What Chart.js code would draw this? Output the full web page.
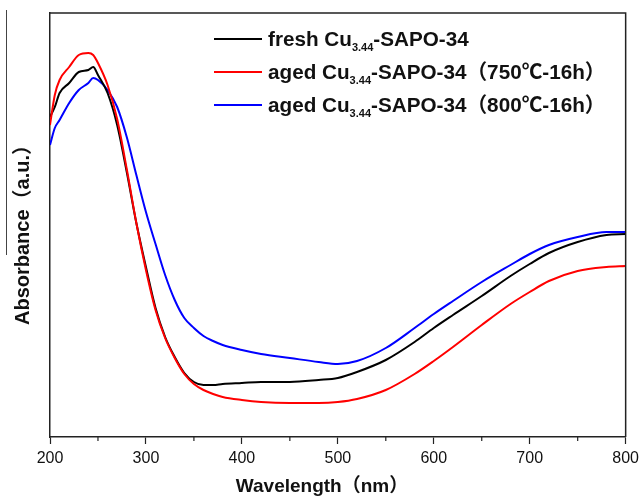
<!DOCTYPE html>
<html>
<head>
<meta charset="utf-8">
<script src="https://cdn.jsdelivr.net/npm/chart.js@4/dist/chart.umd.min.js"></script>
<style>
  html, body { margin: 0; padding: 0; background: #fff; }
  #wrap { position: relative; width: 644px; height: 498px; }
  #stray { position: absolute; left: 6px; top: 10px; width: 1px; height: 245px; background: #444; }
</style>
</head>
<body>
<div id="wrap">
  <canvas id="chart" width="644" height="498"></canvas>
  <div id="stray"></div>
</div>
<script>
const wavelengths = [200, 205, 210, 220, 230, 240, 245, 250, 260, 270, 280, 290, 300, 310, 320, 330, 340, 350, 360, 370, 380, 400, 420, 450, 480, 500, 520, 550, 580, 600, 620, 650, 680, 700, 720, 750, 780, 800];

const freshValues = [320, 330, 344, 354, 365, 367, 370, 362, 344, 312, 265, 214, 170, 129, 100, 80, 64, 55, 52, 52, 53, 54, 55, 55, 57, 59, 65, 77, 95, 109, 122, 141, 161, 173, 184, 195, 202, 203];
const aged750Values = [312, 342, 357, 370, 382, 384, 382, 374, 352, 318, 268, 214, 167, 127, 99, 79, 63, 53, 47, 43, 40, 37, 35, 34, 34, 35, 38, 47, 63, 76, 90, 112, 133, 145, 156, 166, 170, 171];
const aged800Values = [292, 309, 317, 334, 347, 354, 359, 357, 347, 330, 300, 262, 225, 193, 162, 137, 119, 109, 101, 96, 92, 87, 83, 79, 75, 73, 76, 89, 109, 123, 136, 155, 172, 183, 192, 200, 205, 205];

// label pieces: text, subscript, text
const seriesLabels = [
  ["fresh Cu", "3.44", "-SAPO-34"],
  ["aged Cu", "3.44", "-SAPO-34（750℃-16h）"],
  ["aged Cu", "3.44", "-SAPO-34（800℃-16h）"],
];
const seriesColors = ["#000000", "#ff0000", "#0000ff"];

const majorTicks = [200, 300, 400, 500, 600, 700, 800];
const minorTicks = [250, 350, 450, 550, 650, 750];

const textFont = '"Liberation Sans", Arial, "Noto Sans CJK SC", sans-serif';

function points(values) {
  return wavelengths.map((w, i) => ({ x: w, y: values[i] }));
}

const framePlugin = {
  id: "frame",
  afterDraw(chart) {
    const { ctx, chartArea } = chart;
    const xs = chart.scales.x;
    ctx.save();
    ctx.strokeStyle = "#222";
    ctx.lineWidth = 1.5;
    ctx.beginPath();
    ctx.moveTo(chartArea.left, chartArea.top);
    ctx.lineTo(chartArea.right, chartArea.top);
    ctx.lineTo(chartArea.right, chartArea.bottom);
    ctx.stroke();
    ctx.lineWidth = 1.2;
    minorTicks.forEach((t) => {
      const px = xs.getPixelForValue(t);
      ctx.beginPath();
      ctx.moveTo(px, chartArea.bottom);
      ctx.lineTo(px, chartArea.bottom + 4);
      ctx.stroke();
    });

    // axis titles
    ctx.fillStyle = "#111";
    ctx.font = "bold 19px " + textFont;
    ctx.textAlign = "center";
    ctx.textBaseline = "middle";
    ctx.fillText("Wavelength（nm）", 322, 487);
    ctx.save();
    ctx.translate(23, 230);
    ctx.rotate(-Math.PI / 2);
    ctx.font = "bold 20px " + textFont;
    ctx.fillText("Absorbance（a.u.）", 0, 0);
    ctx.restore();

    // legend with subscripts
    ctx.textAlign = "left";
    ctx.textBaseline = "alphabetic";
    chart.data.datasets.forEach((ds, i) => {
      const y = 39 + i * 33;
      ctx.strokeStyle = ds.borderColor;
      ctx.lineWidth = 2;
      ctx.beginPath();
      ctx.moveTo(214, y);
      ctx.lineTo(262, y);
      ctx.stroke();
      const [pre, sub, post] = seriesLabels[i];
      let x = 268;
      const base = y + 7;
      ctx.fillStyle = "#111";
      ctx.font = "bold 20.7px " + textFont;
      ctx.fillText(pre, x, base);
      x += ctx.measureText(pre).width;
      ctx.font = "bold 11px " + textFont;
      ctx.fillText(sub, x, base + 5);
      x += ctx.measureText(sub).width;
      ctx.font = "bold 20.7px " + textFont;
      ctx.fillText(post, x, base);
    });
    ctx.restore();
  },
};

new Chart(document.getElementById("chart"), {
  type: "line",
  data: {
    datasets: [freshValues, aged750Values, aged800Values].map((values, i) => ({
      label: seriesLabels[i].join(""),
      data: points(values),
      borderColor: seriesColors[i],
      backgroundColor: seriesColors[i],
      borderWidth: 2,
      pointRadius: 0,
      cubicInterpolationMode: "monotone",
      order: i === 1 ? 0 : 1,
    })),
  },
  options: {
    responsive: false,
    animation: false,
    layout: { padding: { left: 50, right: 17, top: 13, bottom: 0 } },
    plugins: { legend: { display: false }, tooltip: { enabled: false } },
    scales: {
      x: {
        type: "linear",
        min: 200,
        max: 800,
        afterFit(scale) { scale.height = 61; },
        afterBuildTicks(scale) { scale.ticks = majorTicks.map((v) => ({ value: v })); },
        grid: { drawOnChartArea: false, tickLength: 7, tickColor: "#222", tickWidth: 1.2 },
        border: { color: "#222", width: 1.5 },
        ticks: {
          color: "#111",
          padding: 5,
          maxRotation: 0,
          font: { size: 16, family: textFont },
        },
      },
      y: {
        min: 0,
        max: 424,
        afterFit(scale) { scale.width = 0; },
        grid: { display: false },
        border: { color: "#222", width: 1.5 },
        ticks: { display: false },
      },
    },
  },
  plugins: [framePlugin],
});
</script>
</body>
</html>
